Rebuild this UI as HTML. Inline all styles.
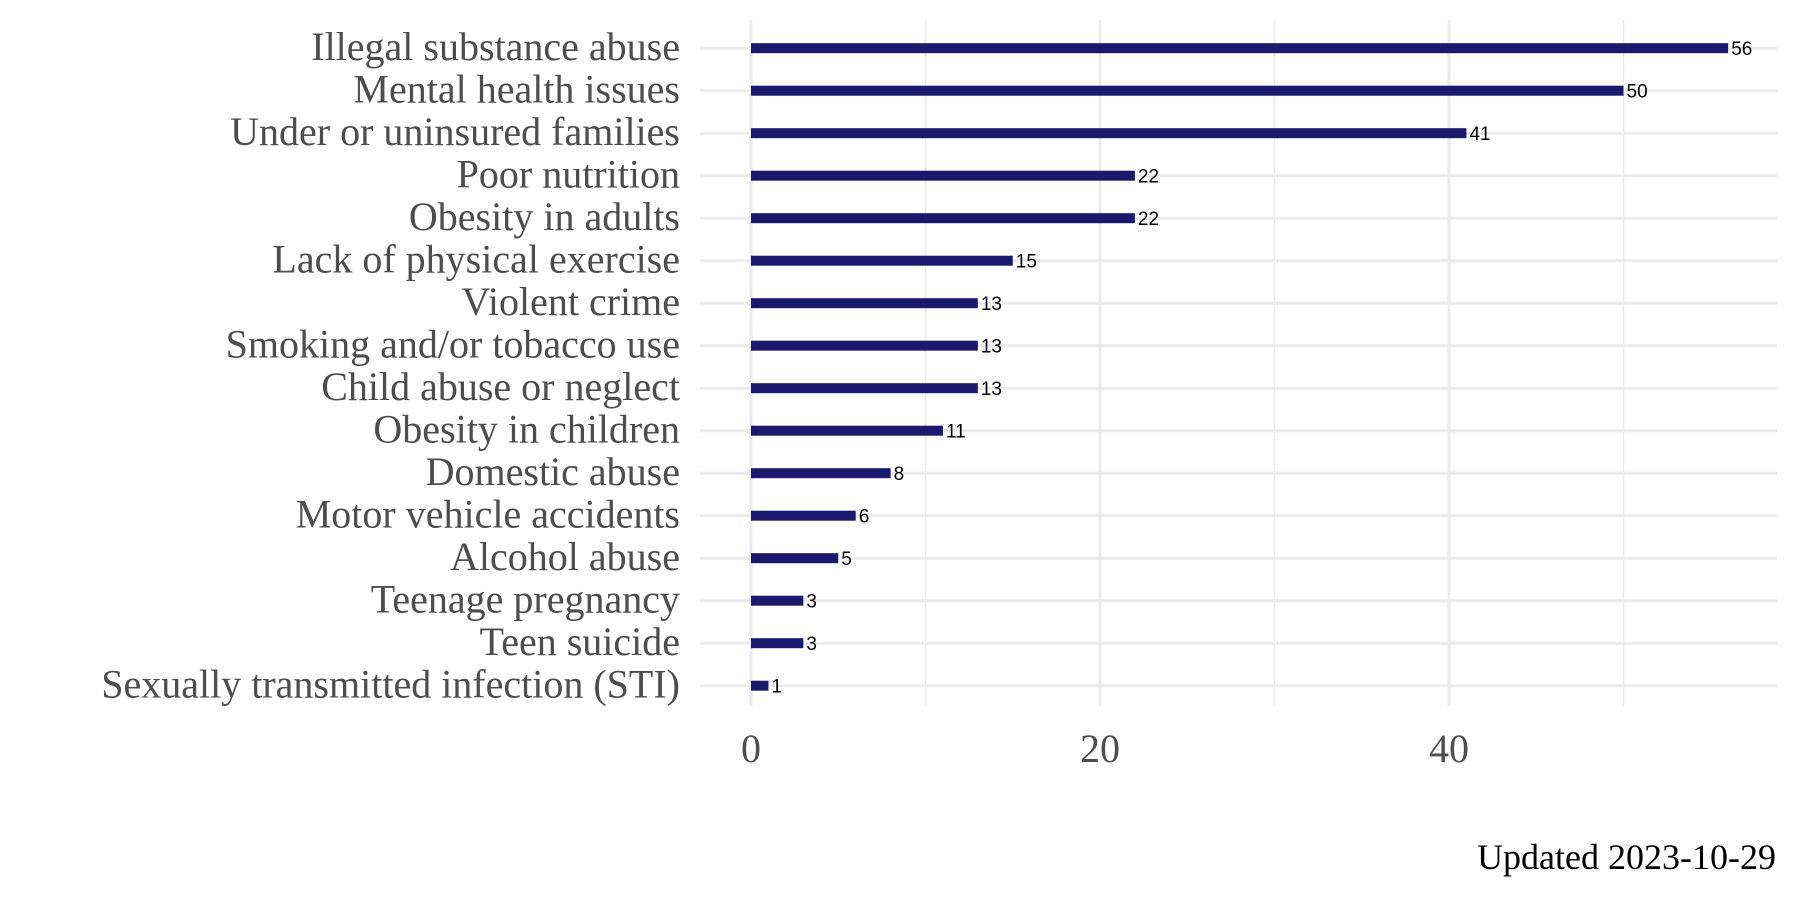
<!DOCTYPE html>
<html><head><meta charset="utf-8"><style>
body{margin:0;background:#fff;}
svg{display:block;}
</style></head><body>
<svg id="chart" width="1800" height="900" xmlns="http://www.w3.org/2000/svg"></svg>
<script>
const categories=["Illegal substance abuse","Mental health issues","Under or uninsured families","Poor nutrition","Obesity in adults","Lack of physical exercise","Violent crime","Smoking and/or tobacco use","Child abuse or neglect","Obesity in children","Domestic abuse","Motor vehicle accidents","Alcohol abuse","Teenage pregnancy","Teen suicide","Sexually transmitted infection (STI)"];
const values=[56,50,41,22,22,15,13,13,13,11,8,6,5,3,3,1];
const majorTicks=[0,20,40];
const minorTicks=[10,30,50];
const ns="http://www.w3.org/2000/svg";
const svg=document.getElementById("chart");
const x=v=>751+v*17.45;
const y=i=>48.2+i*42.5;
function mk(t,a){const e=document.createElementNS(ns,t);for(const k in a)e.setAttribute(k,a[k]);svg.appendChild(e);return e;}
minorTicks.forEach(t=>{const l=mk("line",{x1:x(t),x2:x(t),y1:20,y2:706,stroke:"#ebebeb","stroke-width":1.5});

});
majorTicks.forEach(t=>{const l=mk("line",{x1:x(t),x2:x(t),y1:20,y2:706,stroke:"#ebebeb","stroke-width":3});


const tx=mk("text",{x:x(t),y:762,"text-anchor":"middle","font-family":"Liberation Serif, serif","font-size":40,fill:"#4d4d4d"});tx.textContent=t;

});
categories.forEach((c,i)=>{const l=mk("line",{x1:700,x2:1777,y1:y(i),y2:y(i),stroke:"#ebebeb","stroke-width":3});


const lab=mk("text",{x:680,y:y(i)+12,"text-anchor":"end","font-family":"Liberation Serif, serif","font-size":40,fill:"#4d4d4d",textLength:0});lab.removeAttribute("textLength");lab.textContent=c;

});
values.forEach((v,i)=>{const r=mk("rect",{x:x(0),y:y(i)-5,width:x(v)-x(0),height:10,fill:"#191970"});


const t=mk("text",{x:x(v)+3,y:y(i)+7,"font-family":"Liberation Sans, sans-serif","font-size":19,fill:"#000"});t.textContent=v;

});
const u=mk("text",{x:1776,y:869,"text-anchor":"end","font-family":"Liberation Serif, serif","font-size":36,fill:"#000"});u.textContent="Updated 2023-10-29";


</script>
</body></html>
